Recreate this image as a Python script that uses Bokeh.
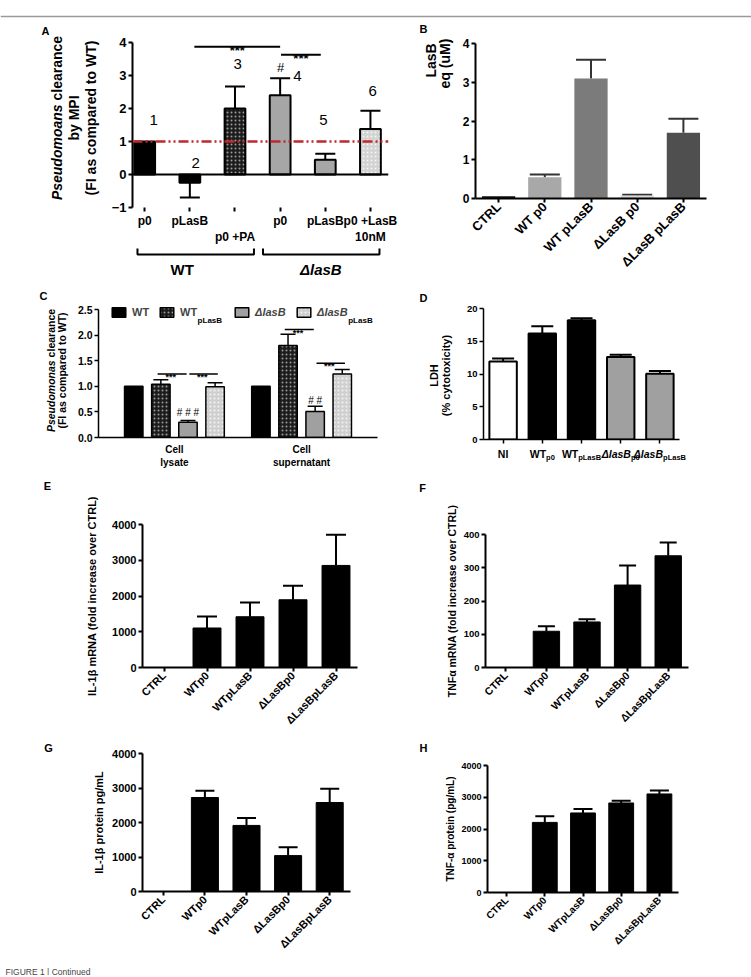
import math
from bokeh.plotting import figure
from bokeh.models import (Range1d, FactorRange, FixedTicker, Span, Label, Whisker, TeeHead,
                          ColumnDataSource, Legend, LegendItem, PrintfTickFormatter)
from bokeh.layouts import column, row
from bokeh.embed import file_html
from bokeh.resources import INLINE
from bokeh.core.properties import value

FONT = "Liberation Sans"

# ===================== DATA =====================
# Panel A
a_tick_labels = ["p0", "pLasB", "\np0 +PA", "p0", "pLasB", "p0 +LasB\n10nM"]
a_values = [1.0, -0.25, 2.0, 2.4, 0.45, 1.38]
a_errors = [0.0, 0.45, 0.67, 0.52, 0.18, 0.55]
a_numbers = ["1", "2", "3", "4", "5", "6"]
a_groups = ["WT", "ΔlasB"]
a_sig_text = ["***", "***"]
a_ref_level = 1.0
a_yticks = [-1, 0, 1, 2, 3, 4]

# Panel B
b_categories = ["CTRL", "WT p0", "WT pLasB", "ΔLasB p0", "ΔLasB pLasB"]
b_values = [0.06, 0.55, 3.10, 0.08, 1.70]
b_errors = [0.0, 0.07, 0.48, 0.02, 0.36]
b_yticks = [0, 1, 2, 3, 4]

# Panel C
c_groups = ["Cell\nlysate", "Cell\nsupernatant"]
c_series_main = ["WT", "WT", "ΔlasB", "ΔlasB"]
c_series_sub = ["", "pLasB", "", "pLasB"]
c_values = [[1.00, 1.00], [1.04, 1.80], [0.30, 0.51], [0.99, 1.24]]
c_errors = [[0.0, 0.0], [0.09, 0.22], [0.03, 0.10], [0.08, 0.09]]
c_hash_marks = ["# # #", "# #"]
c_yticks = [0.0, 0.5, 1.0, 1.5, 2.0, 2.5]

# Panel D
d_main = ["NI", "WT", "WT", "ΔlasB", "ΔlasB"]
d_sub = ["", "p0", "pLasB", "p0", "pLasB"]
d_values = [11.9, 16.2, 18.2, 12.6, 10.05]
d_errors = [0.45, 1.1, 0.3, 0.35, 0.4]
d_yticks = [0, 5, 10, 15, 20]

# Panels E-H
eh_categories = ["CTRL", "WTp0", "WTpLasB", "ΔLasBp0", "ΔLasBpLasB"]
e_values = [0, 1105, 1420, 1895, 2855]
e_errors = [0, 325, 400, 390, 860]
e_yticks = [0, 1000, 2000, 3000, 4000]
f_values = [0, 109, 137, 248, 336]
f_errors = [0, 15, 8, 59, 40]
f_yticks = [0, 100, 200, 300, 400]
g_values = [0, 2725, 1915, 1040, 2580]
g_errors = [0, 195, 215, 240, 395]
g_yticks = [0, 1000, 2000, 3000, 4000]
h_values = [0, 2208, 2505, 2820, 3104]
h_errors = [0, 190, 126, 73, 106]
h_yticks = [0, 1000, 2000, 3000, 4000]

# ===================== STYLE / LAYOUT CONSTANTS =====================
a_fill = ["black", "black", "#1c1c1c", "#a6a6a6", "#a6a6a6", "#d2d2d2"]
a_hatch = [" ", " ", "dot", " ", " ", "dot"]
a_hatch_col = ["black", "black", "#9a9a9a", "black", "black", "#f4f4f4"]
a_num_x = [0.20, 1.13, 2.06, 3.38, 3.96, 5.05]
a_num_y = [1.66, 0.34, 3.36, 3.00, 1.66, 2.54]
a_hash_xy = (3.01, 3.24)
a_sig_span = [(1.1, 3.0), (3.02, 3.9)]
a_sig_y = [3.87, 3.63]
a_bracket_span = [(-0.16, 2.42), (2.62, 5.2)]
a_bracket_label_x = [0.83, 3.90]

b_colors = ["#111111", "#a8a8a8", "#7b7b7b", "#d9d9d9", "#4f4f4f"]

c_fill = ["black", "#1c1c1c", "#a0a0a0", "#cfcfcf"]
c_hatch = [" ", "dot", " ", "dot"]
c_hatch_col = ["black", "#9a9a9a", "black", "#f4f4f4"]

d_fill = ["white", "black", "black", "#a0a0a0", "#a0a0a0"]

# width table (Arial / Liberation Sans bold, em units)
CW = {' ': .278, '(': .333, ')': .333, '%': .889, '-': .333, '/': .278, '.': .278, '#': .556,
      '*': .389, 'Δ': .68, 'α': .6, 'β': .6, '+': .584, '|': .28}
for ch in '0123456789':
    CW[ch] = .556
CW.update(dict(A=.722, B=.722, C=.722, D=.722, E=.667, F=.611, G=.778, H=.722, I=.278, J=.556,
               K=.722, L=.611, M=.833, N=.722, O=.778, P=.667, Q=.778, R=.722, S=.667, T=.611,
               U=.722, V=.667, W=.944, X=.667, Y=.667, Z=.611))
CW.update(dict(a=.556, b=.611, c=.556, d=.611, e=.556, f=.333, g=.611, h=.611, i=.278, j=.278,
               k=.556, l=.278, m=.889, n=.611, o=.611, p=.611, q=.611, r=.389, s=.556, t=.333,
               u=.611, v=.556, w=.778, x=.556, y=.556, z=.5))


def tw(s, size):
    return sum(CW.get(ch, .556) for ch in s) * size


def no_align(p):
    try:
        p.frame_align = False
    except Exception:
        pass


def make_panel(box, frame, x_range, y_range, **kw):
    x0, y0, w, h = box
    fx0, fy0, fx1, fy1 = frame
    p = figure(width=w, height=h, x_range=x_range, y_range=y_range, output_backend="svg",
               toolbar_location=None, min_border_left=fx0 - x0, min_border_right=x0 + w - fx1,
               min_border_top=fy0 - y0, min_border_bottom=y0 + h - fy1, **kw)
    p.grid.visible = False
    p.outline_line_color = None
    p.background_fill_color = "white"
    p.border_fill_color = "white"
    no_align(p)
    return p, frame


def text_fig(x0, y0, w, h):
    """A figure without axes whose data coordinates equal page pixels."""
    p = figure(width=w, height=h, x_range=Range1d(x0, x0 + w), y_range=Range1d(y0 + h, y0),
               output_backend="svg", toolbar_location=None, min_border=0,
               x_axis_location=None, y_axis_location=None)
    p.grid.visible = False
    p.outline_line_color = None
    p.background_fill_color = "white"
    p.border_fill_color = "white"
    no_align(p)
    return p


def gt(p, x, y, text, size, style="bold", align="center", baseline="middle", angle=0.0,
       color="black"):
    p.text(x=[x], y=[y], text=[text], angle=angle, text_font=value(FONT),
           text_font_size=f"{size}px", text_font_style=style, text_align=align,
           text_baseline=baseline, text_color=color)


def gvmixed(p, x, cy, parts, size):
    total = sum(tw(t, size) for t, _ in parts)
    y = cy + total / 2
    for t, st in parts:
        if t.strip():
            gt(p, x, y, t, size, style=st, align="left", angle=math.pi / 2)
        y -= tw(t, size)


def gsub(p, cx, by, main, sub, size, subsize, style="bold", drop=3):
    w1 = tw(main, size)
    w2 = tw(sub, subsize)
    x = cx - (w1 + w2) / 2
    gt(p, x, by, main, size, style=style, align="left", baseline="alphabetic")
    if sub:
        gt(p, x + w1, by + drop, sub, subsize, style="bold", align="left", baseline="alphabetic")


def frame_label(p, fr, px, py, text, size, style="bold", align="left", baseline="alphabetic"):
    fx0, fy0, fx1, fy1 = fr
    p.add_layout(Label(x=px - fx0, y=fy1 - py, x_units="screen", y_units="screen", text=text,
                       text_font=FONT, text_font_size=f"{size}px", text_font_style=style,
                       text_align=align, text_baseline=baseline, text_color="black"))


def style_axes(p, ysize, xsize, lw=2):
    for ax in p.axis:
        ax.axis_line_width = lw
        ax.axis_line_color = "black"
        ax.major_tick_line_width = lw
        ax.major_tick_line_color = "black"
        ax.major_tick_out = 4
        ax.major_tick_in = 0
        ax.minor_tick_line_color = None
        ax.major_label_standoff = 2
        ax.major_label_text_font = FONT
        ax.major_label_text_font_style = "bold"
        ax.major_label_text_color = "black"
    p.yaxis.major_label_text_font_size = f"{ysize}px"
    p.xaxis.major_label_text_font_size = f"{xsize}px"


def add_errors(p, xs, vals, errs, head, color="black", lw=2):
    up = [(x, v, v + e) for x, v, e in zip(xs, vals, errs) if e > 0 and v >= 0]
    dn = [(x, v - e, v) for x, v, e in zip(xs, vals, errs) if e > 0 and v < 0]
    if up:
        src = ColumnDataSource(dict(base=[u[0] for u in up], lower=[u[1] for u in up],
                                    upper=[u[2] for u in up]))
        p.add_layout(Whisker(source=src, base="base", lower="lower", upper="upper",
                             line_color=color, line_width=lw, lower_head=None,
                             upper_head=TeeHead(size=head, line_color=color, line_width=lw)))
    if dn:
        src = ColumnDataSource(dict(base=[u[0] for u in dn], lower=[u[1] for u in dn],
                                    upper=[u[2] for u in dn]))
        p.add_layout(Whisker(source=src, base="base", lower="lower", upper="upper",
                             line_color=color, line_width=lw, upper_head=None,
                             lower_head=TeeHead(size=head, line_color=color, line_width=lw)))


# ===================== TOP RULE =====================
ptop = text_fig(0, 0, 751, 18)
ptop.add_layout(Span(location=16, dimension="width", line_color="#9a9a9a", line_width=1.5))

# ===================== PANEL A =====================
tfA = text_fig(0, 18, 105, 270)
pA, frA = make_panel((105, 18, 293, 229), (132, 42, 388, 209), Range1d(-0.27, 5.4),
                     Range1d(-1, 4))
a_x = list(range(len(a_values)))
srcA = ColumnDataSource(dict(x=a_x, top=a_values, fc=a_fill, hp=a_hatch, hc=a_hatch_col))
pA.vbar(x="x", top="top", width=0.46, source=srcA, fill_color="fc", line_color="black",
        line_width=2, hatch_pattern="hp", hatch_color="hc", hatch_scale=4, hatch_weight=1.5)
add_errors(pA, a_x, a_values, a_errors, head=20)
pA.add_layout(Span(location=0, dimension="width", line_color="black", line_width=2))
pA.add_layout(Span(location=a_ref_level, dimension="width", line_color="#c0282d", line_width=2.5,
                   line_dash="10 3 2 3 2 3"))
style_axes(pA, 13, 12, 2)
pA.yaxis.ticker = FixedTicker(ticks=a_yticks)
pA.xaxis.ticker = FixedTicker(ticks=a_x)
pA.xaxis.major_label_overrides = {i: t for i, t in zip(a_x, a_tick_labels)}
pA.xaxis.axis_line_color = None
pA.text(x=a_num_x, y=a_num_y, text=a_numbers, text_font=value(FONT), text_font_size="15px",
        text_align="center", text_baseline="middle", text_color="black")
pA.text(x=[a_hash_xy[0]], y=[a_hash_xy[1]], text=["#"], text_font=value(FONT),
        text_font_size="13px", text_align="center", text_baseline="middle")
pA.segment(x0=[s[0] for s in a_sig_span], x1=[s[1] for s in a_sig_span], y0=a_sig_y, y1=a_sig_y,
           line_color="black", line_width=2)
pA.text(x=[(s[0] + s[1]) / 2 for s in a_sig_span], y=[y - 0.1 for y in a_sig_y], text=a_sig_text,
        text_font=value(FONT), text_font_size="13px", text_font_style="bold",
        text_align="center", text_baseline="alphabetic")
gvmixed(tfA, 56.7, 117.5, [("Pseudomoans", "bold italic"), (" ", "bold"), ("clearance", "bold")], 14)
gt(tfA, 73.3, 117.5, "by MPI", 14, angle=math.pi / 2)
gt(tfA, 90, 117.5, "(FI as compared to WT)", 14, angle=math.pi / 2)
gt(tfA, 45, 30, "A", 11)

# brackets under A
pBr, frBr = make_panel((105, 247, 293, 41), (132, 247, 388, 288), pA.x_range, Range1d(288, 247),
                       x_axis_location=None, y_axis_location=None)
pBr.multi_line(xs=[[s, s, e, e] for s, e in a_bracket_span],
               ys=[[248, 254, 254, 248] for _ in a_bracket_span], line_color="black", line_width=2)
for k, name in enumerate(a_groups):
    gt(pBr, a_bracket_label_x[k], 268.5, name, 15,
       style="bold italic" if "Δ" in name else "bold")

# ===================== PANEL B =====================
tfB = text_fig(398, 18, 57, 270)
pB, frB = make_panel((455, 18, 296, 270), (475, 43, 706, 198), FactorRange(*b_categories),
                     Range1d(0, 4))
pB.vbar(x=b_categories, top=b_values, width=0.72, fill_color=b_colors, line_color=None)
add_errors(pB, b_categories, b_values, b_errors, head=30, color="#333333")
style_axes(pB, 12, 13, 2)
pB.yaxis.ticker = FixedTicker(ticks=b_yticks)
pB.xaxis.major_label_orientation = math.pi / 4
gt(tfB, 430, 60, "LasB", 14, angle=math.pi / 2)
gt(tfB, 444, 63, "eq (uM)", 14, angle=math.pi / 2)
gt(tfB, 423, 28, "B", 11)

# ===================== PANEL C =====================
tfC = text_fig(0, 288, 72, 192)
c_keys = [m + s for m, s in zip(c_series_main, c_series_sub)]
c_factors = [(g, k) for g in c_groups for k in c_keys]
pC, frC = make_panel((72, 288, 326, 192), (98, 303, 377, 437),
                     FactorRange(factors=c_factors, group_padding=0.69, range_padding=0.8,
                                 range_padding_units="absolute"),
                     Range1d(0, 2.62))
c_renderers = []
for k, key in enumerate(c_keys):
    src = ColumnDataSource(dict(x=[(g, key) for g in c_groups], top=c_values[k]))
    r = pC.vbar(x="x", top="top", width=0.68, source=src, fill_color=c_fill[k],
                line_color="black", line_width=1.5, hatch_pattern=c_hatch[k],
                hatch_color=c_hatch_col[k], hatch_scale=4, hatch_weight=1.5)
    c_renderers.append(r)
    add_errors(pC, [(g, key) for g in c_groups], c_values[k], c_errors[k], head=15, lw=1.5)
style_axes(pC, 10.5, 10, 1.5)
pC.yaxis.ticker = FixedTicker(ticks=c_yticks)
pC.yaxis.formatter = PrintfTickFormatter(format="%.1f")
pC.yaxis.bounds = (c_yticks[0], c_yticks[-1])
axC = pC.xaxis[0]
axC.major_label_text_font_size = "0px"
axC.major_label_text_color = None
axC.major_tick_line_color = None
axC.separator_line_color = None
axC.group_text_font = FONT
axC.group_text_font_size = "10px"
axC.group_text_font_style = "bold"
axC.group_text_color = "black"
c_sig = [(0, 1, 2, 1.24, -0.12, -0.05), (0, 2, 3, 1.24, 0.05, 0.1),
         (1, 1, 2, 2.11, -0.12, -0.05), (1, 2, 3, 1.45, 0.05, 0.1)]
pC.segment(x0=[(c_groups[g], c_keys[a], o0) for g, a, b, y, o0, o1 in c_sig],
           x1=[(c_groups[g], c_keys[b], o1) for g, a, b, y, o0, o1 in c_sig],
           y0=[s[3] for s in c_sig], y1=[s[3] for s in c_sig], line_color="black", line_width=1.5)
pC.text(x=[(c_groups[g], c_keys[a], 0.45 + (o0 + o1) / 2) for g, a, b, y, o0, o1 in c_sig],
        y=[s[3] - 0.06 for s in c_sig], text=["***"] * len(c_sig), text_font=value(FONT),
        text_font_size="9px", text_font_style="bold", text_align="center",
        text_baseline="alphabetic")
pC.text(x=[(g, c_keys[2]) for g in c_groups], y=[0.48, 0.73], text=c_hash_marks,
        text_font=value(FONT), text_font_size="10px", text_align="center",
        text_baseline="middle")
leg_x = [12, 60, 135, 197]
for k in range(4):
    lg = Legend(items=[LegendItem(label=c_series_main[k], renderers=[c_renderers[k]])],
                location=(leg_x[k], 119), orientation="horizontal", padding=0, margin=0,
                spacing=0, border_line_color=None, background_fill_alpha=0,
                glyph_width=17, glyph_height=12, label_standoff=5, label_height=12,
                label_width=10, label_text_font=FONT, label_text_font_size="11px",
                label_text_font_style="bold italic" if "Δ" in c_series_main[k] else "bold")
    pC.add_layout(lg)
    if c_series_sub[k]:
        sx = 98 + leg_x[k] + 22 + tw(c_series_main[k], 11)
        frame_label(pC, frC, sx, 319.5, c_series_sub[k], 8)
gvmixed(tfC, 50, 370, [("Pseudomonas", "bold italic"), (" ", "bold"), ("clearance", "bold")], 10.5)
gt(tfC, 61.7, 370, "(FI as compared to WT)", 10.5, angle=math.pi / 2)
gt(tfC, 43, 295, "C", 11)

# ===================== PANEL D =====================
tfD = text_fig(398, 288, 57, 192)
d_keys = [m + s for m, s in zip(d_main, d_sub)]
pD, frD = make_panel((455, 288, 296, 158), (483, 308, 679, 439), FactorRange(*d_keys),
                     Range1d(0, 20))
pD.vbar(x=d_keys, top=d_values, width=0.7, fill_color=d_fill, line_color="black", line_width=2)
add_errors(pD, d_keys, d_values, d_errors, head=22)
style_axes(pD, 9.5, 10, 1.5)
pD.yaxis.ticker = FixedTicker(ticks=d_yticks)
pD.xaxis.major_label_text_color = None
tfDx = text_fig(455, 446, 296, 34)
fx0, fy0, fx1, fy1 = frD
step = (fx1 - fx0) / len(d_keys)
for i, (m, s) in enumerate(zip(d_main, d_sub)):
    gsub(tfDx, fx0 + (i + 0.5) * step, 453.5, m, s, 10.5, 7.5,
         style="bold italic" if "Δ" in m else "bold")
gt(tfD, 433, 375, "LDH", 11, angle=math.pi / 2)
gt(tfD, 445, 375, "(% cytotoxicity)", 11, angle=math.pi / 2)
gt(tfD, 423, 297, "D", 11)


# ===================== PANELS E-H =====================
def simple_panel(box, frame, values, errors, yticks, ysize, xsize, cap):
    p, fr = make_panel(box, frame, FactorRange(*eh_categories), Range1d(yticks[0], yticks[-1]))
    p.vbar(x=eh_categories, top=values, width=0.65, fill_color="black", line_color="black")
    add_errors(p, eh_categories, values, errors, head=cap)
    style_axes(p, ysize, xsize, 2)
    p.yaxis.ticker = FixedTicker(ticks=yticks)
    p.xaxis.major_label_orientation = math.pi / 4
    return p, fr


tfE = text_fig(0, 480, 108, 260)
pE, frE = simple_panel((108, 480, 290, 260), (142, 524, 357, 667), e_values, e_errors, e_yticks,
                       11, 11, 20)
gt(tfE, 91.7, 595.5, "IL-1β mRNA (fold increase over CTRL)", 11, angle=math.pi / 2)
gt(tfE, 47, 485, "E", 11)

tfF = text_fig(398, 480, 62, 260)
pF, frF = simple_panel((460, 480, 291, 260), (485, 534, 688, 667), f_values, f_errors, f_yticks,
                       9.5, 10.5, 17)
gt(tfF, 451.7, 600.5, "TNFα mRNA (fold increase over CTRL)", 10.5, angle=math.pi / 2)
gt(tfF, 422, 487, "F", 11)

tfG = text_fig(0, 740, 108, 235)
pG, frG = simple_panel((108, 740, 290, 235), (142, 753, 350, 891), g_values, g_errors, g_yticks,
                       11, 11, 19)
gt(tfG, 98.3, 822, "IL-1β protein pg/mL", 11, angle=math.pi / 2)
gt(tfG, 48, 747, "G", 11)
gt(tfG, 5, 971, "FIGURE 1 | Continued", 8.5, style="normal", align="left", color="#444444")

tfH = text_fig(398, 740, 60, 235)
pH, frH = simple_panel((458, 740, 293, 235), (485, 765, 678, 892), h_values, h_errors, h_yticks,
                       9, 10, 19)
gt(tfH, 450, 828.5, "TNF-α protein (pg/mL)", 10, angle=math.pi / 2)
gt(tfH, 423, 747, "H", 11)

layout = column(
    ptop,
    row(tfA, column(pA, pBr), tfB, pB),
    row(tfC, pC, tfD, column(pD, tfDx)),
    row(tfE, pE, tfF, pF),
    row(tfG, pG, tfH, pH),
)

open("out.html", "w").write(file_html(layout, INLINE, title="Figure 1"))
